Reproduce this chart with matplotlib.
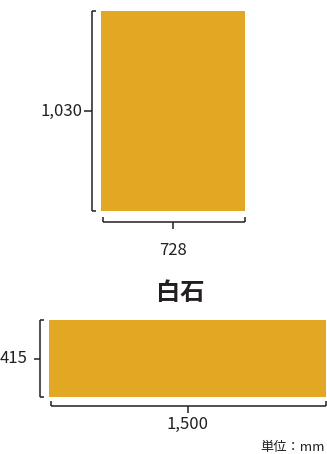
import matplotlib
matplotlib.use("Agg")
import matplotlib.pyplot as plt
from matplotlib.patches import Rectangle
from matplotlib.transforms import ScaledTranslation

plt.rcParams['font.family'] = ['Noto Sans CJK JP', 'DejaVu Sans']

# sizes in mm
panel_widths = [728, 1500]
panel_heights = [1030, 415]
width_labels = ["728", "1,500"]
height_labels = ["1,030", "415"]
title = "白石"
unit_label = "単位：mm"

fill = "#E3A823"
ink = "#231F20"

W, H, DPI = 327, 454, 100
fig = plt.figure(figsize=(W / DPI, H / DPI), dpi=DPI)

# axes boxes in pixels: left, top, right, bottom
boxes = [(101, 11, 245, 211), (49, 320, 326, 397)]
# pixel offsets: left bracket gap, tick len, label gap, bottom bracket gap, bottom label gap
offs = [(9, 8, 19, 11, 29), (9, 6, 22, 9, 18)]


def off(ax, dx, dy):
    # data transform shifted by a few pixels
    return ax.transData + ScaledTranslation(dx / DPI, dy / DPI, fig.dpi_scale_trans)


for i in range(2):
    l, t, r, b = boxes[i]
    ax = fig.add_axes([l / W, 1 - b / H, (r - l) / W, (b - t) / H])
    w, h = panel_widths[i], panel_heights[i]
    ax.set_xlim(0, w)
    ax.set_ylim(0, h)
    ax.axis("off")
    ax.add_patch(Rectangle((0, 0), w, h, color=fill, lw=0))

    lg, tl, lab, bg, blab = offs[i]
    kw = dict(color=ink, lw=1.1, clip_on=False, solid_capstyle="butt")
    px_x = w / (r - l)   # mm per pixel horizontally
    px_y = h / (b - t)   # mm per pixel vertically

    # left bracket with serifs and centre tick
    tr = off(ax, -lg, 0)
    ax.plot([0, 0], [0, h], transform=tr, **kw)
    ax.plot([0, 4 * px_x], [h, h], transform=tr, **kw)
    ax.plot([0, 4 * px_x], [0, 0], transform=tr, **kw)
    ax.plot([-tl * px_x, 0], [h / 2, h / 2], transform=tr, **kw)
    ax.text(0, h / 2, height_labels[i], transform=off(ax, -lab, 0),
            ha="right", va="center", fontsize=12, color=ink)

    # bottom bracket with serifs and centre tick
    tr = off(ax, 0, -bg)
    start = 2 * px_x
    ax.plot([start, w], [0, 0], transform=tr, **kw)
    ax.plot([start, start], [0, 5 * px_y], transform=tr, **kw)
    ax.plot([w, w], [0, 5 * px_y], transform=tr, **kw)
    ax.plot([w / 2, w / 2], [-7 * px_y, 0], transform=tr, **kw)
    ax.text(w / 2, 0, width_labels[i], transform=off(ax, 0, -bg - blab),
            ha="center", va="center", fontsize=12, color=ink)

fig.text(180 / W, 1 - 293 / H, title, ha="center", va="center",
         fontsize=17.5, fontweight="bold", color=ink)
fig.text(325 / W, 1 - 447 / H, unit_label, ha="right", va="center",
         fontsize=9.5, color=ink)

fig.savefig("out.png", dpi=DPI)
